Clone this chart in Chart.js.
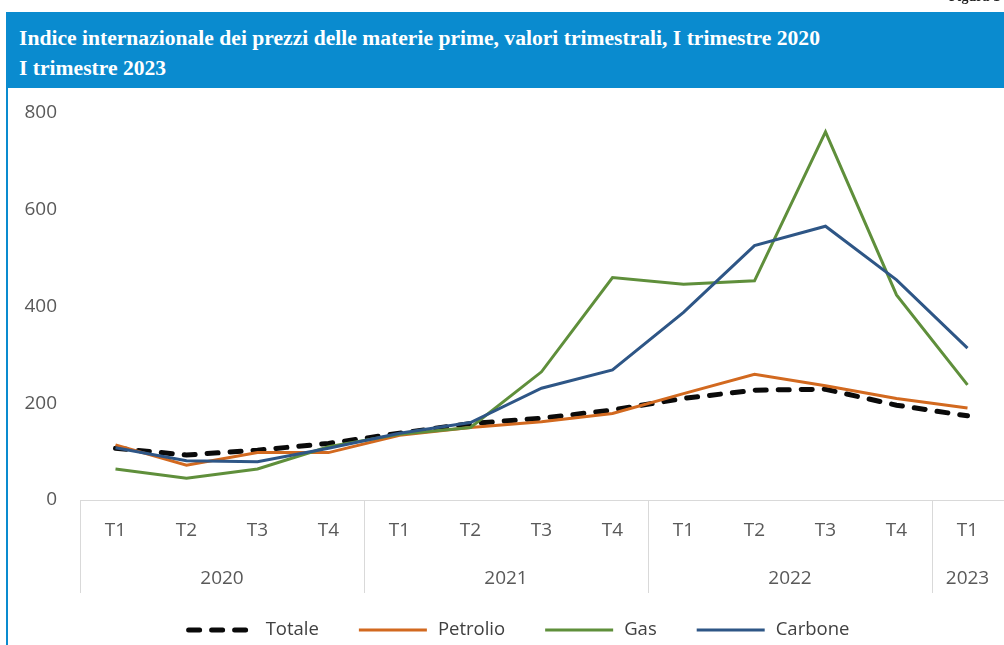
<!DOCTYPE html>
<html lang="it">
<head>
<meta charset="utf-8">
<script src="https://cdn.jsdelivr.net/npm/chart.js@4.4.1/dist/chart.umd.min.js"></script>
<style>
    html, body { margin: 0; padding: 0; background: #fff; width: 1004px; height: 645px; overflow: hidden; }
    #wrap { position: relative; width: 1004px; height: 645px; }
    #chart { position: absolute; left: 0; top: 0; }
    #figTag { position: absolute; right: 4px; top: -11px; font: bold 14px "Liberation Serif", serif; color: #222; }
    #titleBar {
        position: absolute; left: 6px; top: 12px; width: 998px; height: 76px;
        background: #0a8bcf; color: #fff; box-sizing: border-box; padding: 11px 0 0 13px;
        font: bold 21.6px/30px "Liberation Serif", "DejaVu Serif", serif;
    }
    #leftBorder { position: absolute; left: 6px; top: 12px; width: 2px; height: 633px; background: #0a8bcf; }
</style>
</head>
<body>
<div id="wrap">
    <canvas id="chart" width="1004" height="645"></canvas>
    <div id="figTag">Figura 1</div>
    <div id="leftBorder"></div>
    <div id="titleBar">Indice internazionale dei prezzi delle materie prime, valori trimestrali, I trimestre 2020<br>I trimestre 2023</div>
</div>
<script>
// 横軸ラベル（四半期）と年グループ
const quarters = ['T1', 'T2', 'T3', 'T4', 'T1', 'T2', 'T3', 'T4', 'T1', 'T2', 'T3', 'T4', 'T1'];
const years = ['2020', '2021', '2022', '2023'];
const yearCounts = [4, 4, 4, 1];

// 系列データ
const totale   = [107, 93, 103, 117, 138, 158, 169, 186, 210, 227, 229, 196, 174];
const petrolio = [114, 72, 98, 98, 134, 150, 162, 179, 220, 260, 236, 210, 190];
const gas      = [64, 45, 64, 110, 136, 150, 265, 460, 446, 453, 761, 424, 238];
const carbone  = [108, 81, 79, 107, 138, 160, 231, 269, 388, 526, 566, 455, 314];

// 縦軸目盛り
const yTicks = [0, 200, 400, 600, 800];

const axisFont = { family: '"Open Sans", sans-serif', size: 19 };
const axisColor = '#595959';
const fontCss = '19px "Open Sans", sans-serif';
const legendCss = '18.5px "Open Sans", sans-serif';

// 年ラベルと区切り線
const yearGroups = {
    id: 'yearGroups',
    afterDraw(chart) {
        const x = chart.scales.x;
        const ctx = chart.ctx;
        const bottom = chart.chartArea.bottom;
        ctx.save();
        ctx.strokeStyle = '#d9d9d9';
        ctx.lineWidth = 1;
        ctx.fillStyle = axisColor;
        ctx.font = fontCss;
        ctx.textAlign = 'center';
        ctx.textBaseline = 'middle';
        let start = 0;
        years.forEach((year, i) => {
            const edge = Math.round(x.getPixelForValue(start - 0.5)) + 0.5;
            ctx.beginPath();
            ctx.moveTo(edge, bottom);
            ctx.lineTo(edge, bottom + 93);
            ctx.stroke();
            const mid = x.getPixelForValue(start + (yearCounts[i] - 1) / 2);
            ctx.fillText(year, mid, bottom + 79);
            start += yearCounts[i];
        });
        ctx.restore();
    }
};

// 凡例（下部、自前で描画）
const bottomLegend = {
    id: 'bottomLegend',
    afterDraw(chart) {
        const ctx = chart.ctx;
        const sets = chart.data.datasets;
        const lineW = 68, gap = 11, spacing = 40;
        const y = chart.chartArea.bottom + 130;
        ctx.save();
        ctx.font = legendCss;
        const widths = sets.map(ds => lineW + gap + ctx.measureText(ds.label).width);
        const total = widths.reduce((a, b) => a + b, 0) + spacing * (sets.length - 1);
        let cx = 518 - total / 2;
        sets.forEach((ds, i) => {
            ctx.strokeStyle = ds.borderColor;
            ctx.lineWidth = ds.borderWidth;
            ctx.lineCap = ds.borderCapStyle || 'butt';
            ctx.setLineDash(ds.borderDash || []);
            ctx.beginPath();
            ctx.moveTo(cx + (ds.borderDash ? 2 : 0), y);
            ctx.lineTo(cx + lineW, y);
            ctx.stroke();
            ctx.setLineDash([]);
            ctx.fillStyle = '#404040';
            ctx.textAlign = 'left';
            ctx.textBaseline = 'middle';
            ctx.fillText(ds.label, cx + lineW + gap, y);
            cx += widths[i] + spacing;
        });
        ctx.restore();
    }
};

const ctx = document.getElementById('chart').getContext('2d');
new Chart(ctx, {
    type: 'line',
    data: {
        labels: quarters,
        datasets: [{
            label: 'Totale',
            data: totale,
            borderColor: '#0a0a0a',
            borderWidth: 5,
            borderDash: [11, 12],
            borderCapStyle: 'round',
            order: 4
        }, {
            label: 'Petrolio',
            data: petrolio,
            borderColor: '#d2691f',
            borderWidth: 3,
            order: 3
        }, {
            label: 'Gas',
            data: gas,
            borderColor: '#5f8f3b',
            borderWidth: 3,
            order: 2
        }, {
            label: 'Carbone',
            data: carbone,
            borderColor: '#2e5686',
            borderWidth: 3,
            order: 1
        }]
    },
    options: {
        responsive: false,
        animation: false,
        layout: { padding: { top: 113, right: 1, bottom: 65, left: 0 } },
        elements: {
            point: { radius: 0, hoverRadius: 0 },
            line: { tension: 0, fill: false }
        },
        plugins: {
            title: { display: false },
            tooltip: { enabled: false },
            legend: { display: false }
        },
        scales: {
            x: {
                offset: true,
                grid: { display: false, drawTicks: false, offset: true },
                border: { display: true, color: '#d9d9d9', width: 1 },
                ticks: { color: axisColor, font: axisFont, padding: 19, maxRotation: 0, autoSkip: false },
                afterFit(scale) { scale.height = 80; }
            },
            y: {
                min: 0,
                max: 800,
                grid: { display: false, drawTicks: false },
                border: { display: false },
                afterBuildTicks(scale) { scale.ticks = yTicks.map(v => ({ value: v })); },
                ticks: { color: axisColor, font: axisFont, padding: 23 },
                afterFit(scale) { scale.width = 80; }
            }
        }
    },
    plugins: [yearGroups, bottomLegend]
});
</script>
</body>
</html>
